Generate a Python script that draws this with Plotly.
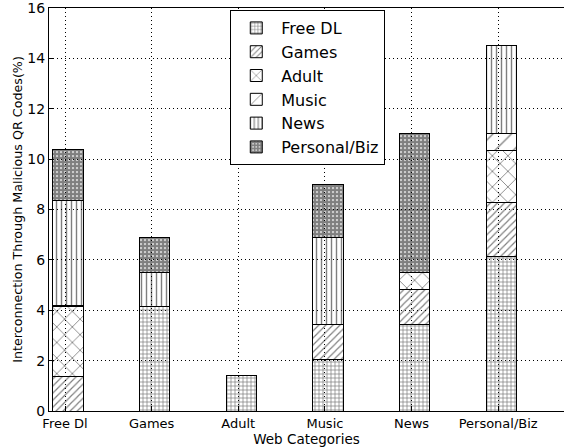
import plotly.graph_objects as go

categories = ["Free Dl", "Games", "Adult", "Music", "News", "Personal/Biz"]
free_dl = [None, 4.15, 1.4, 2.05, 3.43, 6.15]
games = [1.37, None, None, 1.4, 1.38, 2.12]
adult = [2.78, None, None, None, 0.7, 2.09]
music = [0.05, None, None, None, None, 0.66]
news = [4.15, 1.35, None, 3.45, None, 3.48]
personal = [2.05, 1.4, None, 2.08, 5.52, None]

series = [
    ("Free DL", free_dl, "+", 4, 0.33),
    ("Games", games, "/", 5, 0.24),
    ("Adult", adult, "x", 11, 0.15),
    ("Music", music, "/", 13, 0.1),
    ("News", news, "|", 5, 0.28),
    ("Personal/Biz", personal, ".", 4, 0.8),
]

fig = go.Figure()
for name, vals, shape, size, sol in series:
    fig.add_trace(go.Bar(
        x=categories, y=vals, name=name,
        width=0.35, offset=-0.14,
        marker=dict(
            color="rgba(255,255,255,0)",
            line=dict(color="black", width=1),
            pattern=dict(shape=shape, size=size, fgcolor="black",
                         bgcolor="rgba(255,255,255,0)",
                         solidity=sol, fillmode="overlay"),
        ),
    ))

fig.update_layout(
    width=564, height=448,
    barmode="stack",
    paper_bgcolor="white", plot_bgcolor="white",
    margin=dict(l=49, r=0, t=8, b=37, autoexpand=False),
    font=dict(family="DejaVu Sans", color="black", size=14),
    legend=dict(
        x=0.352, y=0.995, xanchor="left", yanchor="top",
        bordercolor="black", borderwidth=1, bgcolor="white",
        font=dict(size=16), traceorder="normal", itemwidth=40,
    ),
    xaxis=dict(
        range=[-0.185, 5.76], automargin=False,
        showline=True, linecolor="black", linewidth=1, mirror=True,
        showgrid=True, gridcolor="black", griddash="1px,3px", gridwidth=1,
        ticks="inside", ticklen=5, tickcolor="black",
        title=dict(text="Web Categories", font=dict(size=13.5), standoff=0),
        tickfont=dict(size=13),
    ),
    yaxis=dict(
        range=[0, 16.001], tickvals=[0, 2, 4, 6, 8, 10, 12, 14, 16],
        automargin=False, ticklabeloverflow="allow",
        showline=True, linecolor="black", linewidth=1,
        showgrid=True, gridcolor="black", griddash="1px,3px", gridwidth=1,
        ticks="inside", ticklen=5, tickcolor="black",
        zeroline=False,
        title=dict(text="Interconnection Through Malicious QR Codes(%)",
                   font=dict(size=12.7), standoff=1),
        tickfont=dict(size=14),
    ),
)

fig.write_html(
    "out.html",
    config={"displayModeBar": False},
    post_script="document.body.style.margin='0';document.body.style.overflow='hidden';",
)
